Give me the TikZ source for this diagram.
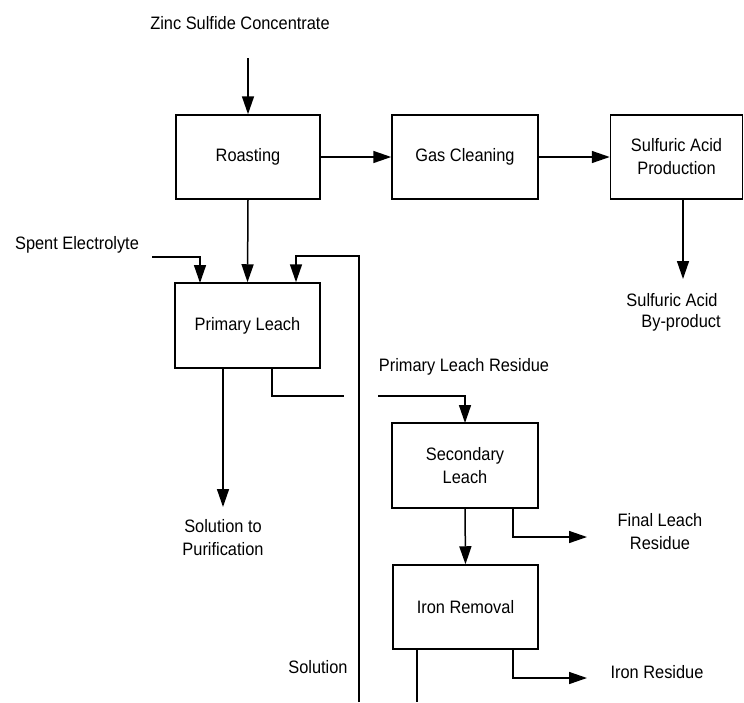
\documentclass[tikz,border=0pt]{standalone}
\usepackage{fontspec}
\setmainfont{Liberation Sans}[FakeStretch=0.91]
\usetikzlibrary{arrows.meta}
\begin{document}
\begin{tikzpicture}[x=1pt,y=-1pt,
  font=\fontsize{18}{23}\selectfont,
  box/.style={draw,line width=1.5pt,align=center,inner sep=0pt},
  lbl/.style={inner sep=0pt,align=center},
  flow/.style={line width=1.5pt,-{Triangle[length=18pt,width=12pt]}},
  line/.style={line width=1.5pt}]
\useasboundingbox (0,0) rectangle (744,702);
% boxes
\node[box,minimum width=144pt,minimum height=84pt] (roast) at (248,157) {Roasting};
\node[box,minimum width=146pt,minimum height=84pt] (gas) at (465,157) {Gas Cleaning};
\node[box,minimum width=132pt,minimum height=84pt] (acid) at (676.5,157) {Sulfuric Acid\\Production};
\node[box,minimum width=145pt,minimum height=85pt] (pleach) at (247.5,325.5) {Primary Leach};
\node[box,minimum width=146pt,minimum height=85pt] (sleach) at (465,465.5) {Secondary\\Leach};
\node[box,minimum width=145pt,minimum height=84pt] (iron) at (465.5,607) {Iron Removal};
% labels
\node[lbl] (zinc) at (240,23) {Zinc Sulfide Concentrate};
\node[lbl] (spent) at (77,245) {Spent Electrolyte};
\node[lbl] (acidbp1) at (672,300) {Sulfuric Acid};
\node[lbl] (acidbp2) at (681,323) {By-product};
\node[lbl] (plr) at (464,367) {Primary Leach Residue};
\node[lbl] (sol) at (223,537.5) {Solution to\\Purification};
\node[lbl] (flr) at (660,531.5) {Final Leach\\Residue};
\node[lbl] (ires) at (657,672) {Iron Residue};
\node[lbl] (solution) at (318,667) {Solution};
% coordinates
\coordinate (zin) at (248,58);
\coordinate (abp) at (683,279);
\coordinate (se) at (152,257);
\coordinate (sein) at (200,283);
\coordinate (ret0) at (359,702);
\coordinate (ret1) at (296,256);
\coordinate (solend) at (223,507);
\coordinate (r0) at (272,368);
\coordinate (r1) at (344,396);
\coordinate (r2) at (378,396);
\coordinate (r3) at (465,423);
\coordinate (flrend) at (587,537);
\coordinate (fl0) at (513,508);
\coordinate (ir0) at (513,649);
\coordinate (irend) at (587,678);
\coordinate (ib0) at (417,649);
\coordinate (ib1) at (417,702);
% connectors
\draw[flow] (zin) -- (roast.north);
\draw[flow] (roast.east) -- (gas.west);
\draw[flow] (gas.east) -- (acid.west);
\draw[flow] (acid.south -| abp) -- (abp);
\draw[flow] (se) -| (sein);
\draw[flow] (roast.south) -- (pleach.north);
\draw[flow] (ret0) |- (ret1) -- (ret1 |- pleach.north);
\draw[flow] (pleach.south -| solend) -- (solend);
\draw[line] (r0) |- (r1);
\draw[flow] (r2) -| (r3);
\draw[flow] (sleach.south) -- (iron.north);
\draw[flow] (fl0) |- (flrend);
\draw[flow] (ir0) |- (irend);
\draw[line] (ib0) -- (ib1);
\end{tikzpicture}
\end{document}
